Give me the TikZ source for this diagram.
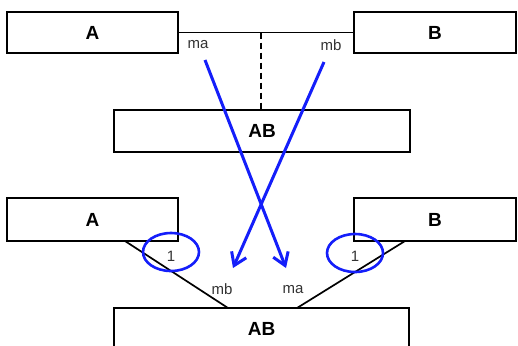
\documentclass[tikz,border=0pt]{standalone}
\usepackage{fontspec}
\setmainfont{Liberation Sans}
\usetikzlibrary{shapes.geometric,arrows.meta}
\definecolor{lineblue}{RGB}{20,30,250}
\tikzset{
  ent/.style={draw=black, line width=0.8pt, fill=white, inner sep=0pt, font=\fontsize{9.5}{10}\selectfont\bfseries},
  lbl/.style={inner sep=0pt, text=black!80, font=\fontsize{7.5}{8}\selectfont},
  blink/.style={draw=lineblue, line width=1.5pt, -{Straight Barb[length=6pt,width=8pt,line width=1.5pt]}},
  mult/.style={ellipse, draw=lineblue, line width=1.3pt, inner sep=0pt, minimum width=28pt, minimum height=19pt},
  rel/.style={draw=black, line width=0.85pt}
}
\begin{document}
\begin{tikzpicture}[x=0.5pt,y=-0.5pt]
\clip (0,0) rectangle (518,345);
\fill[white] (0,0) rectangle (518,345);
% top row
\node[ent, minimum width=85.5pt, minimum height=20.5pt] (A1) at (92.5,32.5) {A};
\node[ent, minimum width=81pt, minimum height=20.5pt] (B1) at (435,32.5) {B};
\node[ent, minimum width=148pt, minimum height=21pt] (AB1) at (262,131) {AB};
\draw[rel] (A1.east) -- (B1.east -| B1.west);
\coordinate (mid) at (261,32.5);
\draw[rel, dashed, dash pattern=on 3pt off 2pt] (mid) -- (mid |- AB1.north);
\node[lbl] (ma1) at (198,45) {ma};
\node[lbl] (mb1) at (331,45) {mb};
% bottom row
\node[ent, minimum width=85.5pt, minimum height=21.5pt] (A2) at (92.5,219.5) {A};
\node[ent, minimum width=81pt, minimum height=21.5pt] (B2) at (435,219.5) {B};
\node[ent, minimum width=147.5pt, minimum height=21pt] (AB2) at (261.5,329) {AB};
\coordinate (a2s) at (125,241);
\coordinate (ab2l) at (228,308);
\coordinate (b2s) at (405,241);
\coordinate (ab2r) at (297,308);
\draw[rel] (a2s) -- (ab2l);
\draw[rel] (b2s) -- (ab2r);
\node[lbl] (mb2) at (222,289) {mb};
\node[lbl] (ma2) at (293,290) {ma};
\node[mult] (m1) at (171,252) {};
\node[mult] (m2) at (355,253) {};
\node[lbl] (n1) at (171,256) {1};
\node[lbl] (n2) at (355,256) {1};
% blue arrows
\coordinate (s1) at (205,60);
\coordinate (t1) at (286,268);
\coordinate (s2) at (324,62);
\coordinate (t2) at (233,268);
\draw[blink] (s1) -- (t1);
\draw[blink] (s2) -- (t2);
\end{tikzpicture}
\end{document}
